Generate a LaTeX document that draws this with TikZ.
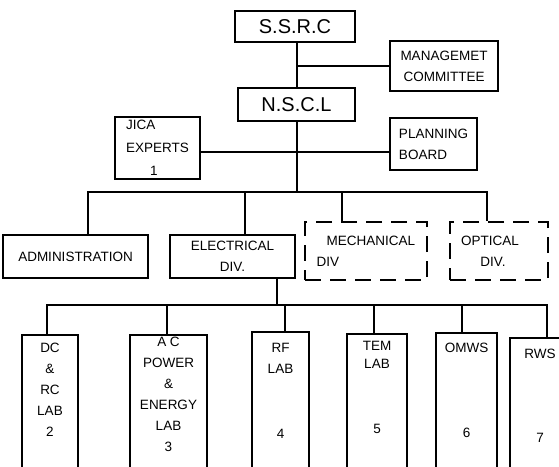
\documentclass[tikz,border=0pt]{standalone}
\usepackage{fontspec}
\setmainfont{Liberation Sans}
\newcommand{\lbl}{\fontsize{13.5}{21}\selectfont}
\newcommand{\hdl}{\fontsize{20}{24}\selectfont}
\tikzset{
  box/.style={draw, line width=1.5pt, inner sep=0pt, font=\lbl, align=center},
  dbox/.style={box, dash pattern=on 16pt off 9pt},
  lab/.style={draw, line width=1.5pt, inner sep=0pt},
  txt/.style={inner sep=0pt, align=center, font=\lbl},
  conn/.style={line width=1.5pt}
}
\begin{document}
\begin{tikzpicture}[x=1pt,y=-1pt]
\clip (0,0) rectangle (559,466);
\fill[white] (0,0) rectangle (559,466);
% top
\node[box, font=\hdl, minimum width=120pt, minimum height=31pt] (ssrc) at (295,26.5) {S.S.R.C};
\node[box, minimum width=108pt, minimum height=50pt] (mgmt) at (444,66) {MANAGEMET\\COMMITTEE};
\node[box, font=\hdl, minimum width=117pt, minimum height=33pt] (nscl) at (296.5,104.5) {N.S.C.L};
\node[box, align=left, minimum width=87pt, minimum height=52pt] (plan) at (433.5,144) {PLANNING\\BOARD};
\node[box, align=left, minimum width=85pt, minimum height=62pt, font=\fontsize{13.5}{23}\selectfont] (jica) at (157.5,148) {JICA\\EXPERTS\\\hspace*{24pt}1};
% divisions
\node[box, minimum width=145pt, minimum height=43pt] (admin) at (75.5,256.5) {ADMINISTRATION};
\node[box, minimum width=125pt, minimum height=43pt] (elec) at (232.5,256.5) {ELECTRICAL\\DIV.};
\node[dbox, align=left, minimum width=122pt, minimum height=58pt] (mech) at (366,251) {\hspace*{10pt}MECHANICAL\\DIV};
\node[dbox, minimum width=98pt, minimum height=58pt] (opt) at (499,251) {OPTICAL\hspace*{18pt}\\DIV.\hspace*{12pt}};
% labs
\node[lab, minimum width=56pt, minimum height=145pt] (dc) at (50,407.5) {};
\node[lab, minimum width=77pt, minimum height=145pt] (ac) at (168.5,407.5) {};
\node[lab, minimum width=57pt, minimum height=148pt] (rf) at (280.5,406) {};
\node[lab, minimum width=60pt, minimum height=146pt] (tem) at (377,407) {};
\node[lab, minimum width=61pt, minimum height=147pt] (omws) at (466.5,406.5) {};
\node[lab, minimum width=60pt, minimum height=142pt] (rws) at (540,409) {};
\node[txt, anchor=north] (dct) at ([yshift=-9pt]dc.north) {DC\\\&\\RC\\LAB\\2};
\node[txt, anchor=north] (act) at ([yshift=-3pt]ac.north) {A C\\POWER\\\&\\ENERGY\\LAB\\3};
\node[txt, anchor=north] (rft) at ([yshift=-12pt]rf.north) {RF\\LAB\\[44pt]4};
\node[txt, anchor=north] (temt) at ([yshift=-8pt]tem.north) {TEM\\[-3pt]LAB\\[44pt]5};
\node[txt, anchor=north] (omwst) at ([yshift=-11pt]omws.north) {OMWS\\[64pt]6};
\node[txt, anchor=north] (rwst) at ([yshift=-12pt]rws.north) {RWS\\[63pt]7};
% connectors
\coordinate (mj) at (297,66);
\coordinate (pb) at (297,152);
\coordinate (b1) at (297,192);
\coordinate (dA) at (88,192);
\coordinate (dE) at (245,192);
\coordinate (dM) at (342,192);
\coordinate (dO) at (487,192);
\draw[conn] (ssrc.south -| mj) -- (nscl.north -| mj);
\draw[conn] (mj) -- (mj -| mgmt.west);
\draw[conn] (nscl.south -| b1) -- (b1);
\draw[conn] (pb -| jica.east) -- (pb -| plan.west);
\draw[conn] (dA |- admin.north) -- (dA) -- (dO) -- (dO |- opt.north);
\draw[conn] (dE) -- (dE |- elec.north);
\draw[conn] (dM) -- (dM |- mech.north);
\coordinate (b2) at (277,305);
\coordinate (lD) at (47,305);
\coordinate (lA) at (167,305);
\coordinate (lR) at (285,305);
\coordinate (lT) at (374,305);
\coordinate (lO) at (462,305);
\coordinate (lW) at (547,305);
\draw[conn] (elec.south -| b2) -- (b2);
\draw[conn] (lD |- dc.north) -- (lD) -- (lW) -- (lW |- rws.north);
\draw[conn] (lA) -- (lA |- ac.north);
\draw[conn] (lR) -- (lR |- rf.north);
\draw[conn] (lT) -- (lT |- tem.north);
\draw[conn] (lO) -- (lO |- omws.north);
\end{tikzpicture}
\end{document}
